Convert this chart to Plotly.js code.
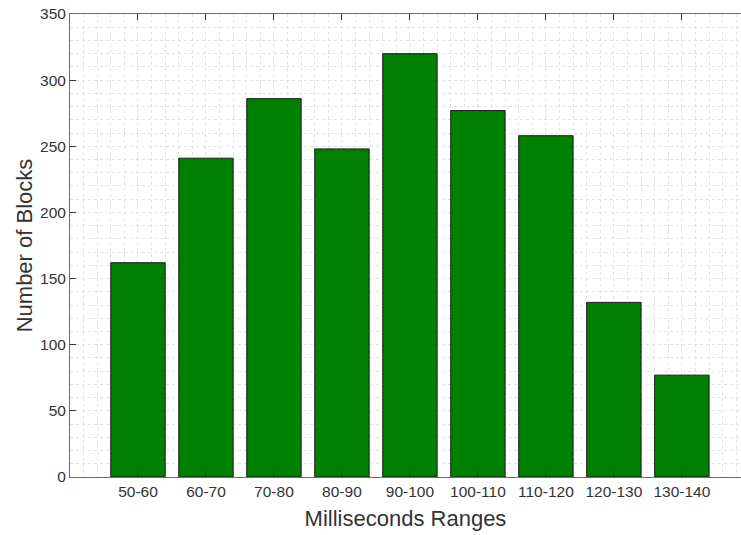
<!DOCTYPE html>
<html>
<head>
<meta charset="utf-8">
<script src="https://cdn.plot.ly/plotly-3.0.1.min.js"></script>
<style>html,body{margin:0;padding:0;background:#fff;}#chart{width:741px;height:535px;}</style>
</head>
<body>
<div id="chart"></div>
<script>
const categories = ["50-60","60-70","70-80","80-90","90-100","100-110","110-120","120-130","130-140"];
const blockCounts = [162, 241, 286, 248, 320, 277, 258, 132, 77];
const yTicks = [0, 50, 100, 150, 200, 250, 300, 350];

const positions = categories.map((c, i) => i);

const trace = {
  type: 'bar',
  x: positions,
  y: blockCounts,
  width: 0.8,
  marker: {color: 'rgb(0,128,0)', line: {color: '#1a1a1a', width: 1}},
  hoverinfo: 'skip'
};

const gridCol = '#e2e2e2';
const axisCol = '#6b6b6b';
const txtCol = '#333333';
const layout = {
  width: 741, height: 535,
  margin: {l: 70, r: 0, t: 14, b: 58},
  paper_bgcolor: '#fff', plot_bgcolor: '#fff',
  font: {family: 'Liberation Sans, Arial, sans-serif', color: txtCol},
  showlegend: false,
  bargap: 0,
  xaxis: {
    range: [-1, 8.87],
    tickmode: 'array', tickvals: positions, ticktext: categories,
    ticks: 'inside', ticklen: 6, tickcolor: '#333', tickwidth: 1,
    showline: true, linecolor: axisCol, linewidth: 1, mirror: 'ticks',
    showgrid: true, gridcolor: gridCol, griddash: 'dot', gridwidth: 1,
    zeroline: false,
    tickfont: {size: 15.5, color: txtCol},
    minor: {tickmode: 'linear', tick0: 0, dtick: 0.2, showgrid: true, gridcolor: gridCol, griddash: 'dot', gridwidth: 1, ticks: ''},
    title: {text: 'Milliseconds Ranges', font: {size: 22, color: txtCol}, standoff: 12}
  },
  yaxis: {
    range: [0, 350],
    tickmode: 'array', tickvals: yTicks,
    ticks: 'inside', ticklen: 6, tickcolor: '#333', tickwidth: 1,
    showline: true, linecolor: axisCol, linewidth: 1,
    showgrid: true, gridcolor: gridCol, griddash: 'dot', gridwidth: 1,
    zeroline: false,
    tickfont: {size: 15.5, color: txtCol},
    minor: {tickmode: 'linear', tick0: 0, dtick: 10, showgrid: true, gridcolor: gridCol, griddash: 'dot', gridwidth: 1, ticks: ''},
    title: {text: 'Number of Blocks', font: {size: 22, color: txtCol}, standoff: 1}
  }
};

Plotly.newPlot('chart', [trace], layout, {displayModeBar: false, staticPlot: true});
</script>
</body>
</html>
